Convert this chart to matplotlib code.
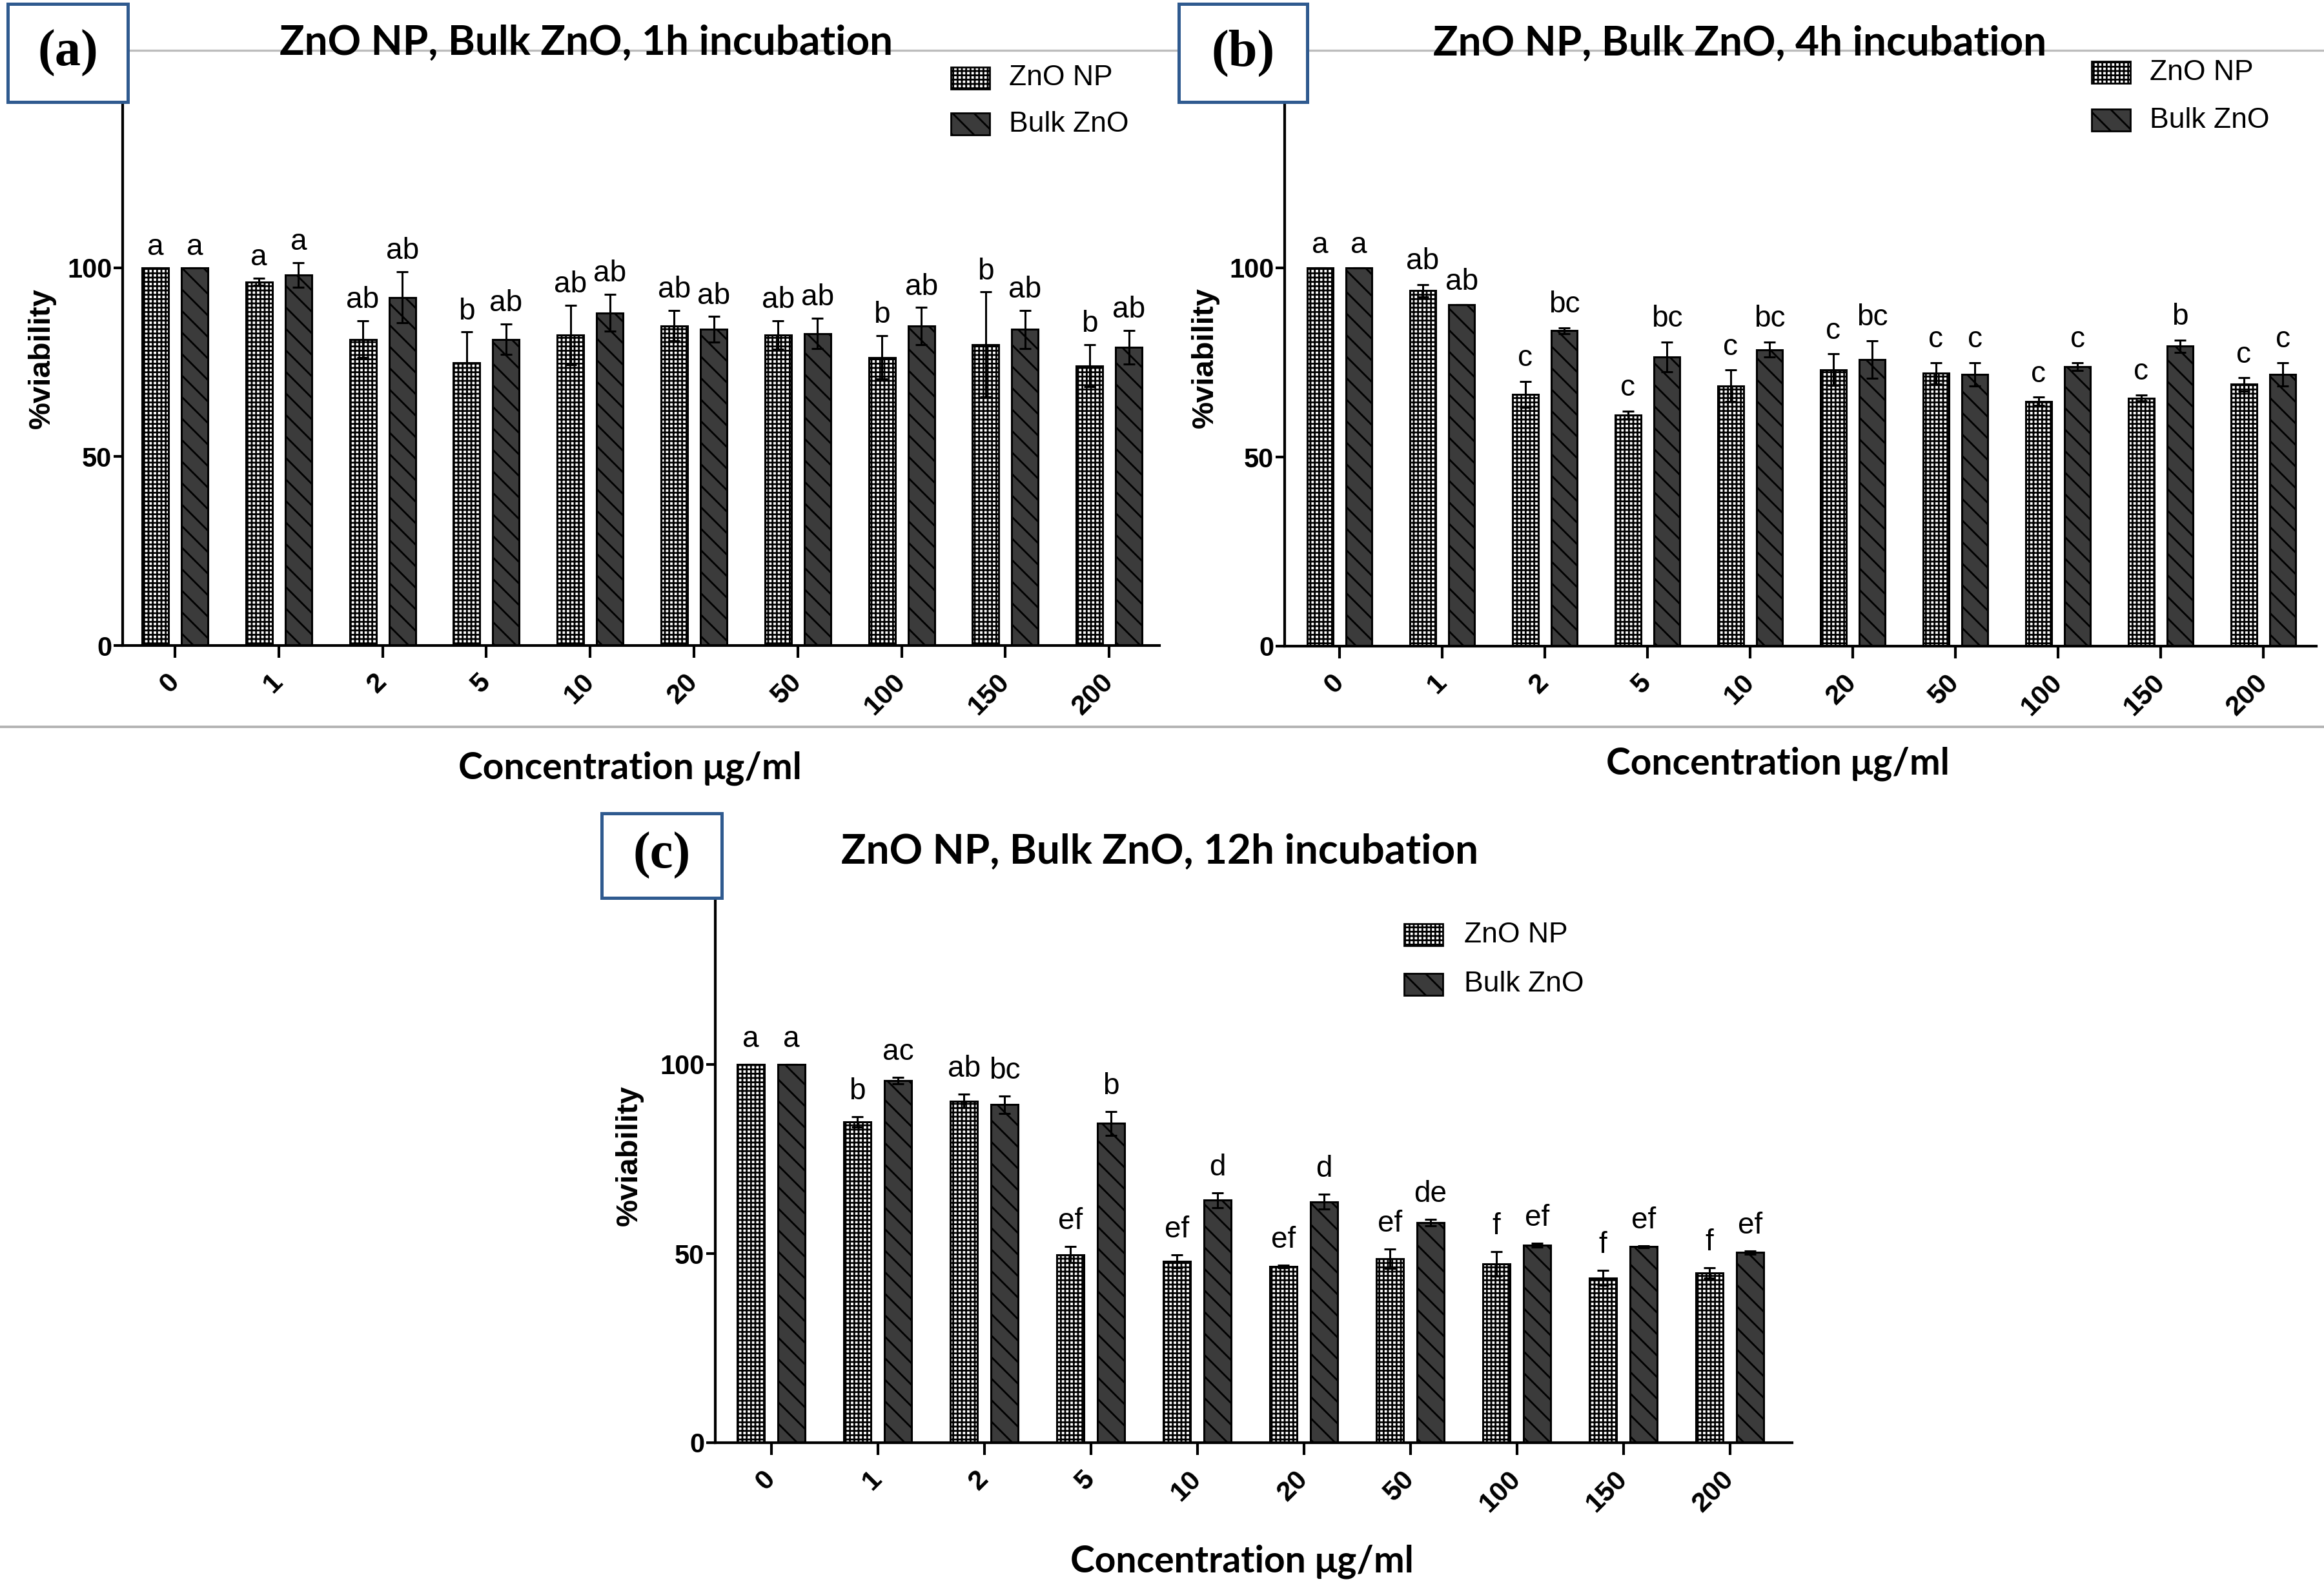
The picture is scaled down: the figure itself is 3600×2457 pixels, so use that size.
import numpy as np
import matplotlib
matplotlib.use('Agg')
import matplotlib.pyplot as plt
from matplotlib.patches import Rectangle
from matplotlib.lines import Line2D

# concentrations (ug/ml) on the x axis
conc = ['0', '1', '2', '5', '10', '20', '50', '100', '150', '200']

# (a) 1h incubation
np_1h = [100, 96.3, 81.1, 74.8, 82.2, 84.7, 82.2, 76.3, 79.7, 74.1]
np_1h_err = [0, 1.0, 4.9, 8.2, 7.9, 4.0, 3.8, 5.7, 13.9, 5.5]
bulk_1h = [100, 98.1, 92.2, 81.1, 88.1, 83.7, 82.6, 84.6, 83.7, 79.0]
bulk_1h_err = [0, 3.3, 6.8, 4.0, 4.9, 3.4, 4.0, 4.9, 5.0, 4.5]
np_1h_let = ['a', 'a', 'ab', 'b', 'ab', 'ab', 'ab', 'b', 'b', 'b']
bulk_1h_let = ['a', 'a', 'ab', 'ab', 'ab', 'ab', 'ab', 'ab', 'ab', 'ab']

# (b) 4h incubation
np_4h = [100, 94.0, 66.6, 61.1, 68.8, 73.1, 72.1, 64.7, 65.6, 69.2]
np_4h_err = [0, 1.6, 3.4, 1.1, 4.2, 4.2, 2.9, 1.1, 0.8, 1.8]
bulk_4h = [100, 90.2, 83.4, 76.5, 78.4, 75.8, 71.9, 73.9, 79.3, 71.9]
bulk_4h_err = [0, 0, 0.8, 3.9, 2.0, 5.0, 3.1, 1.1, 1.6, 3.1]
np_4h_let = ['a', 'ab', 'c', 'c', 'c', 'c', 'c', 'c', 'c', 'c']
bulk_4h_let = ['a', 'ab', 'bc', 'bc', 'bc', 'bc', 'c', 'c', 'b', 'c']

# (c) 12h incubation
np_12h = [100, 84.8, 90.3, 49.7, 48.0, 46.6, 48.6, 47.3, 43.6, 44.9]
np_12h_err = [0, 1.3, 1.8, 2.1, 1.7, 0.3, 2.6, 3.2, 2.0, 1.3]
bulk_12h = [100, 95.7, 89.4, 84.4, 64.1, 63.7, 58.2, 52.2, 51.8, 50.3]
bulk_12h_err = [0, 0.9, 2.3, 3.2, 2.0, 2.0, 0.9, 0.5, 0.3, 0.4]
np_12h_let = ['a', 'b', 'ab', 'ef', 'ef', 'ef', 'ef', 'f', 'f', 'f']
bulk_12h_let = ['a', 'ac', 'bc', 'b', 'd', 'd', 'de', 'ef', 'ef', 'ef']

W, H = 3600, 2457
DPI = 200

plt.rcParams['font.family'] = ['Liberation Sans', 'DejaVu Sans']
plt.rcParams['hatch.linewidth'] = 1.0

TITLE_FONT = ['Lato', 'DejaVu Sans']
NP_HATCH = '+++++'
BULK_HATCH = '\\\\'
BULK_FACE = '#3b3b3b'
BOX_COLOR = '#2f5a8f'

fig = plt.figure(figsize=(W / DPI, H / DPI), dpi=DPI)


def fx(x):
    return x / W


def fy(y):
    return 1 - y / H


def draw_panel(left, right, y0, y100, x_first, step,
               np_vals, np_err, bulk_vals, bulk_err, np_let, bulk_let, gap):
    ytop = y0 - 1.5 * (y0 - y100)
    ax = fig.add_axes([fx(left), fy(y0), (right - left) / W, (y0 - ytop) / H])
    x = np.arange(len(conc))
    w = 0.255
    off = 0.19

    ax.bar(x - off, np_vals, w, color='white', hatch=NP_HATCH,
           edgecolor='black', linewidth=1.1, zorder=2)
    ax.bar(x + off, bulk_vals, w, color=BULK_FACE, hatch=BULK_HATCH,
           edgecolor='black', linewidth=1.1, zorder=2)
    ax.errorbar(x - off, np_vals, yerr=np_err, fmt='none', ecolor='black',
                elinewidth=1.1, capsize=3.3, capthick=1.1, zorder=4)
    ax.errorbar(x + off, bulk_vals, yerr=bulk_err, fmt='none', ecolor='black',
                elinewidth=1.1, capsize=3.3, capthick=1.1, zorder=4)

    for i in range(len(conc)):
        ax.text(x[i] - off, np_vals[i] + np_err[i] + gap, np_let[i],
                ha='center', va='baseline', fontsize=16.5)
        ax.text(x[i] + off, bulk_vals[i] + bulk_err[i] + gap, bulk_let[i],
                ha='center', va='baseline', fontsize=16.5)

    ax.set_xlim((left - x_first) / step, (right - x_first) / step)
    ax.set_ylim(0, 150)
    ax.spines[['top', 'right']].set_visible(False)
    ax.spines[['left', 'bottom']].set_linewidth(1.5)

    ax.set_yticks([0, 50, 100])
    ax.tick_params(axis='y', length=5, width=1.5, labelsize=15, pad=1)
    for lab in ax.get_yticklabels():
        lab.set_fontweight('bold')
    ax.set_xticks(x)
    ax.set_xticklabels(conc, rotation=45, ha='right', va='center',
                       rotation_mode='anchor', fontweight='bold', fontsize=15.5)
    ax.tick_params(axis='x', length=7, width=1.5, pad=11)
    ax.patch.set_alpha(0)
    return ax


def panel_label(text, x0, x1, y0, y1):
    rect = Rectangle((fx(x0), fy(y1)), (x1 - x0) / W, (y1 - y0) / H,
                     transform=fig.transFigure, facecolor='white',
                     edgecolor=BOX_COLOR, linewidth=1.8, zorder=10)
    fig.add_artist(rect)
    fig.text(fx((x0 + x1) / 2), fy((y0 + y1) / 2), text, ha='center', va='center',
             fontsize=29, fontweight='bold', family=['Liberation Serif'], zorder=11)


def legend(x, y_np, y_bulk, text_x):
    for yc, hatch, face, lab in [(y_np, NP_HATCH, 'white', 'ZnO NP'),
                                 (y_bulk, BULK_HATCH, BULK_FACE, 'Bulk ZnO')]:
        rect = Rectangle((fx(x), fy(yc + 17)), 60 / W, 34 / H,
                         transform=fig.transFigure, facecolor=face, hatch=hatch,
                         edgecolor='black', linewidth=1.0)
        fig.add_artist(rect)
        fig.text(fx(text_x), fy(yc), lab, ha='left', va='center', fontsize=16)


# faint grey lines left from the figure composition
fig.add_artist(Line2D([fx(200), 1], [fy(78), fy(78)], color='#bdbdbd', lw=1.2))
fig.add_artist(Line2D([0, 1], [fy(1126), fy(1126)], color='#b3b3b3', lw=1.4))

# (a)
draw_panel(190, 1796, 1000, 415, 271, 160.8,
           np_1h, np_1h_err, bulk_1h, bulk_1h_err, np_1h_let, bulk_1h_let, 3.4)
# (b)
draw_panel(1990, 3588, 1001, 415, 2075, 159.0,
           np_4h, np_4h_err, bulk_4h, bulk_4h_err, np_4h_let, bulk_4h_let, 4.0)
# (c)
draw_panel(1108, 2776, 2235, 1649, 1194.5, 165.0,
           np_12h, np_12h_err, bulk_12h, bulk_12h_err, np_12h_let, bulk_12h_let, 4.6)

titles = [('ZnO NP, Bulk ZnO, 1h incubation', 908, 66),
          ('ZnO NP, Bulk ZnO, 4h incubation', 2695, 67),
          ('ZnO NP, Bulk ZnO, 12h incubation', 1797, 1319)]
for t, tx, ty in titles:
    fig.text(fx(tx), fy(ty), t, ha='center', va='center', fontsize=23,
             fontweight='bold', family=TITLE_FONT)

for xl, yl in [(976, 1190), (2754, 1183), (1924, 2419)]:
    fig.text(fx(xl), fy(yl), 'Concentration μg/ml', ha='center', va='center',
             fontsize=20.5, fontweight='bold', family=TITLE_FONT)

for xl, yl in [(65, 555), (1867, 554), (975, 1790)]:
    fig.text(fx(xl), fy(yl), '%viability', ha='center', va='center', rotation=90,
             fontsize=17, fontweight='bold')

panel_label('(a)', 12, 198, 6, 158)
panel_label('(b)', 1826, 2025, 6, 158)
panel_label('(c)', 932, 1118, 1260, 1391)

legend(1473, 121, 192, 1563)
legend(3240, 112, 186, 3330)
legend(2175, 1448, 1525, 2268)

fig.savefig('out.png', dpi=DPI, facecolor='white')
